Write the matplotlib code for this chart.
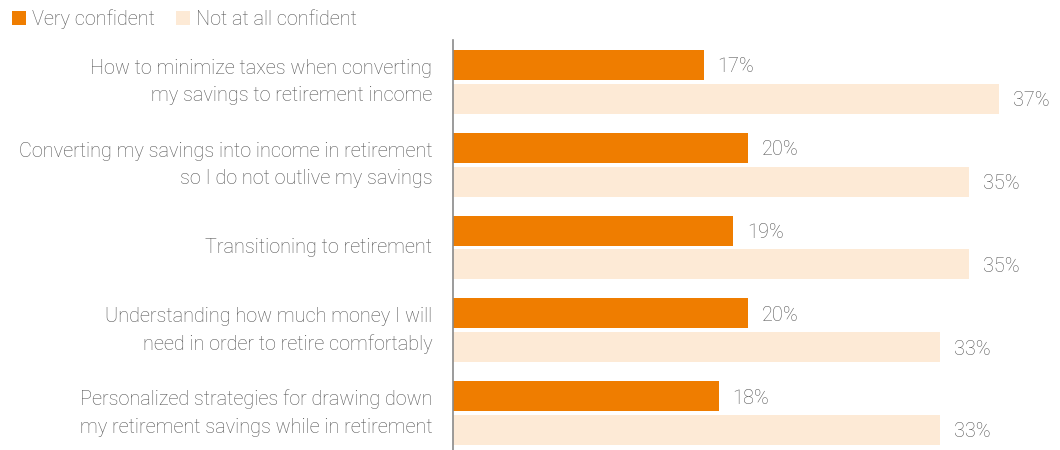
import matplotlib
matplotlib.use("Agg")
import matplotlib.pyplot as plt
import numpy as np

# Survey topics and the share of respondents at each confidence extreme
categories = [
    "How to minimize taxes when converting\nmy savings to retirement income",
    "Converting my savings into income in retirement\nso I do not outlive my savings",
    "Transitioning to retirement",
    "Understanding how much money I will\nneed in order to retire comfortably",
    "Personalized strategies for drawing down\nmy retirement savings while in retirement",
]
very_confident = [17, 20, 19, 20, 18]
not_confident = [37, 35, 35, 33, 33]
series_names = ["Very confident", "Not at all confident"]

ORANGE = "#EF7D00"
PEACH = "#FDEAD6"
TEXT = "#555555"
FS = 14.3

plt.rcParams["font.family"] = ["Roboto", "DejaVu Sans"]

W, H = 1060, 450
fig = plt.figure(figsize=(W / 100, H / 100), dpi=100)
ax = fig.add_axes([453 / W, 0, 590 / W, 410 / H])

y = np.arange(len(categories))
bar_h = 0.3625
off = 0.205

b1 = ax.barh(y - off, very_confident, height=bar_h, color=ORANGE, label=series_names[0])
b2 = ax.barh(y + off, not_confident, height=bar_h, color=PEACH, label=series_names[1])

for bars, vals in ((b1, very_confident), (b2, not_confident)):
    texts = ax.bar_label(bars, labels=[f"{v}%" for v in vals], padding=10,
                         fontsize=FS, color=TEXT, fontweight="light")
    for t in texts:
        t.set_verticalalignment("center_baseline")

ax.set_xlim(0, 40)
ax.set_ylim(len(categories) - 1 + 0.447, -0.507)

ax.set_yticks(y)
ax.set_yticklabels(categories, fontsize=FS, color=TEXT, fontweight="light",
                   linespacing=1.55)
for lbl in ax.get_yticklabels():
    lbl.set_verticalalignment("center")
ax.tick_params(axis="y", length=0, pad=15)
ax.set_xticks([])

for side in ("top", "right", "bottom"):
    ax.spines[side].set_visible(False)
ax.spines["left"].set_color("#8A8A8A")
ax.spines["left"].set_linewidth(1.2)

fig.legend(handles=[b1, b2], labels=series_names, loc="upper left",
           bbox_to_anchor=(0 / W, 1 + 3 / H), ncol=2, frameon=False,
           labelcolor=TEXT, handlelength=0.72, handleheight=0.72,
           handletextpad=0.3, columnspacing=1.05, borderaxespad=0.2,
           prop={"weight": "light", "size": FS})

fig.savefig("out.png", dpi=100, facecolor="white")
